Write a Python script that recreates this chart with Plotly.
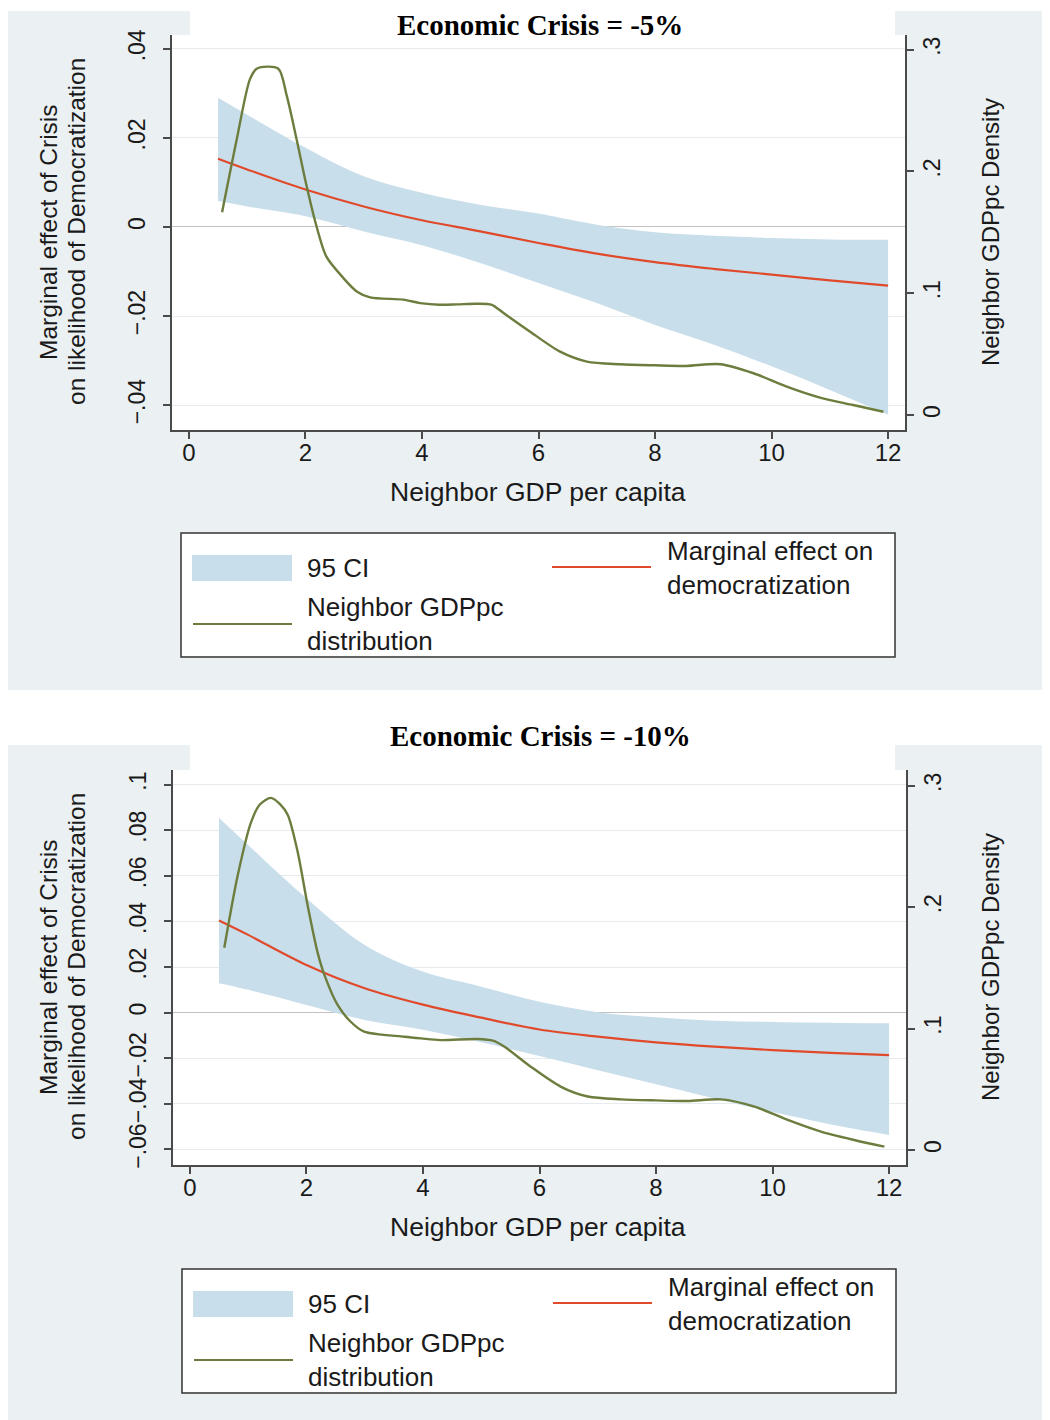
import plotly.graph_objects as go

# page body has an 8px margin: the figure is placed at (8, 8) in the window
OFF = 8
W, H = 1042, 1412

# ---------------- data ----------------
x_me = [0.5, 1, 2, 3, 4, 5, 6, 7, 8, 9, 10, 11, 12]

# Economic Crisis = -5%
me_5 = [0.0153, 0.0129, 0.0084, 0.0046, 0.0015, -0.0010, -0.0036, -0.0060, -0.0079, -0.0094, -0.0107, -0.0120, -0.0132]
ci_hi_5 = [0.0290, 0.0252, 0.0178, 0.0114, 0.0077, 0.0050, 0.0030, 0.0005, -0.0012, -0.0020, -0.0025, -0.0028, -0.0029]
ci_lo_5 = [0.0058, 0.0046, 0.0024, -0.0010, -0.0041, -0.0081, -0.0126, -0.0171, -0.0220, -0.0264, -0.0313, -0.0366, -0.0422]

# Economic Crisis = -10%
me_10 = [0.0404, 0.0341, 0.0209, 0.0107, 0.0035, -0.0022, -0.0074, -0.0105, -0.0130, -0.0149, -0.0164, -0.0176, -0.0186]
ci_hi_10 = [0.0855, 0.0735, 0.0502, 0.0297, 0.0180, 0.0114, 0.0048, 0.0002, -0.0020, -0.0035, -0.0041, -0.0044, -0.0047]
ci_lo_10 = [0.0129, 0.0100, 0.0034, -0.0032, -0.0075, -0.0130, -0.0190, -0.0252, -0.0314, -0.0376, -0.0436, -0.0490, -0.0536]

# Neighbor GDPpc density (right axis)
dens_x_5 = [0.57, 0.82, 1.05, 1.17, 1.53, 1.68, 1.85, 2.02, 2.19, 2.36, 2.65, 2.88, 3.11, 3.68, 3.97,
            4.3, 4.6, 4.94, 5.2, 5.4, 5.85, 6.37, 6.83, 7.4, 8.0, 8.54, 9.12, 9.69, 10.26, 10.83, 11.4, 11.92]
dens_5 = [0.1665, 0.226, 0.276, 0.2845, 0.2845, 0.262, 0.226, 0.188, 0.155, 0.130, 0.1125, 0.1015, 0.0966, 0.0947, 0.0919,
          0.0905, 0.0908, 0.0914, 0.0905, 0.0837, 0.0686, 0.052, 0.0439, 0.0417, 0.0408, 0.0403, 0.0417, 0.0343, 0.0233, 0.0143, 0.0082, 0.0027]

dens_x_10 = [0.59, 0.82, 1.05, 1.2, 1.39, 1.55, 1.68, 1.85, 2.02, 2.19, 2.31, 2.54, 2.76, 2.99, 3.68, 3.97,
             4.3, 4.94, 5.2, 5.4, 5.85, 6.37, 6.83, 7.4, 8.0, 8.54, 9.12, 9.69, 10.26, 10.83, 11.4, 11.92]
dens_10 = [0.1665, 0.226, 0.270, 0.2846, 0.290, 0.2846, 0.276, 0.2455, 0.2016, 0.163, 0.144, 0.119, 0.1056, 0.0974, 0.0933, 0.0919,
           0.0905, 0.0914, 0.0900, 0.0850, 0.0686, 0.052, 0.044, 0.0417, 0.0408, 0.0403, 0.0417, 0.0357, 0.0247, 0.0151, 0.0082, 0.0027]

x_ticks = [0, 2, 4, 6, 8, 10, 12]
y_ticks_5 = [-0.04, -0.02, 0, 0.02, 0.04]
y_ticklabels_5 = ["\u2212.04", "\u2212.02", "0", ".02", ".04"]
y_ticks_10 = [-0.06, -0.04, -0.02, 0, 0.02, 0.04, 0.06, 0.08, 0.1]
y_ticklabels_10 = ["\u2212.06", "\u2212.04", "\u2212.02", "0", ".02", ".04", ".06", ".08", ".1"]
dens_ticks = [0, 0.1, 0.2, 0.3]
dens_ticklabels = ["0", ".1", ".2", ".3"]

titles = ["Economic Crisis = -5%", "Economic Crisis = -10%"]
x_title = "Neighbor GDP per capita"
y_title_lines = ["Marginal effect of Crisis", "on likelihood of Democratization"]
y2_title = "Neighbor GDPpc Density"
legend_labels = ["95 CI", "Marginal effect on<br>democratization", "Neighbor GDPpc<br>distribution"]

# ---------------- styles ----------------
BG = "#ebf0f3"
CI_COL = "#c9deeb"
RED = "#e04a2b"
GREEN = "#6c7d3e"
AX = "#4a4a4a"
TXT = "#1a1a1a"
SANS = "Liberation Sans, Arial, Helvetica, sans-serif"
SERIF = "Liberation Serif, Times New Roman, serif"


def px(v):
    return (v - OFF) / W


def py(v):
    return 1 - (v - OFF) / H


fig = go.Figure()

panels = [
    dict(me=me_5, hi=ci_hi_5, lo=ci_lo_5, dx=dens_x_5, dy=dens_5, xa="x", ya="y", ya2="y2",
         left=172, right=905, top=35, bottom=430, yr=[-0.0456, 0.0431], y2r=[-0.0123, 0.312],
         yt=y_ticks_5, ytl=y_ticklabels_5, off=0, title=titles[0], title_y=25, gray_top=11, gray_bot=690),
    dict(me=me_10, hi=ci_hi_10, lo=ci_lo_10, dx=dens_x_10, dy=dens_10, xa="x2", ya="y3", ya2="y4",
         left=173, right=906, top=770, bottom=1165, yr=[-0.0668, 0.1064], y2r=[-0.0124, 0.313],
         yt=y_ticks_10, ytl=y_ticklabels_10, off=735, title=titles[1], title_y=736, gray_top=745, gray_bot=1430),
]

shapes = []
annotations = []
layout_axes = {}

for i, p in enumerate(panels):
    fig.add_trace(go.Scatter(x=x_me, y=p["lo"], mode="lines", line=dict(width=0, shape="spline"),
                             xaxis=p["xa"], yaxis=p["ya"], showlegend=False, hoverinfo="skip"))
    fig.add_trace(go.Scatter(x=x_me, y=p["hi"], mode="lines", line=dict(width=0, shape="spline"),
                             fill="tonexty", fillcolor=CI_COL,
                             xaxis=p["xa"], yaxis=p["ya"], showlegend=False, hoverinfo="skip"))
    fig.add_trace(go.Scatter(x=x_me, y=p["me"], mode="lines", line=dict(color=RED, width=2.2, shape="spline"),
                             xaxis=p["xa"], yaxis=p["ya"], showlegend=False))
    fig.add_trace(go.Scatter(x=p["dx"], y=p["dy"], mode="lines",
                             line=dict(color=GREEN, width=2.4, shape="spline", smoothing=0.8),
                             xaxis=p["xa"], yaxis=p["ya2"], showlegend=False))

    xname = "xaxis" if p["xa"] == "x" else "xaxis2"
    yname = "yaxis" if p["ya"] == "y" else "yaxis3"
    y2name = "yaxis2" if p["ya2"] == "y2" else "yaxis4"

    layout_axes[xname] = dict(
        domain=[px(p["left"]), px(p["right"])], anchor=p["ya"], range=[-0.29, 12.29],
        tickvals=x_ticks, ticktext=[str(t) for t in x_ticks], ticks="outside", ticklen=7, tickwidth=1.5,
        tickcolor=AX, showline=True, linecolor=AX, linewidth=1.5, showgrid=False, zeroline=False,
        tickfont=dict(family=SANS, size=24, color=TXT), ticklabelstandoff=-7, automargin=False)
    layout_axes[yname] = dict(
        domain=[py(p["bottom"]), py(p["top"])], anchor=p["xa"], range=p["yr"],
        tickvals=p["yt"], ticktext=p["ytl"], tickangle=-90, ticks="outside", ticklen=7, tickwidth=1.5,
        tickcolor=AX, showline=True, linecolor=AX, linewidth=1.5, showgrid=True, gridcolor="#e6ecee",
        gridwidth=1, zeroline=True, zerolinecolor="#c2c2c2", zerolinewidth=1.2,
        tickfont=dict(family=SANS, size=23, color=TXT), ticklabelstandoff=9, automargin=False)
    layout_axes[y2name] = dict(
        overlaying=p["ya"], side="right", anchor=p["xa"], range=p["y2r"],
        tickvals=dens_ticks, ticktext=dens_ticklabels, tickangle=-90, ticks="outside", ticklen=7, tickwidth=1.5,
        tickcolor=AX, showline=True, linecolor=AX, linewidth=1.5, showgrid=False, zeroline=False,
        tickfont=dict(family=SANS, size=23, color=TXT), ticklabelstandoff=-1, automargin=False)

    o = p["off"]
    # backgrounds
    shapes.append(dict(type="rect", xref="paper", yref="paper", x0=px(6), x1=px(1060),
                       y0=py(p["gray_bot"]), y1=py(p["gray_top"]), fillcolor=BG, line=dict(width=0), layer="below"))
    shapes.append(dict(type="rect", xref="paper", yref="paper", x0=px(p["left"]), x1=px(p["right"]),
                       y0=py(p["bottom"]), y1=py(p["top"]), fillcolor="white", line=dict(width=0), layer="below"))
    shapes.append(dict(type="rect", xref="paper", yref="paper", x0=px(190), x1=px(895),
                       y0=py(p["top"] + 1), y1=py(p["gray_top"]), fillcolor="white", line=dict(width=0), layer="below"))
    # legend box
    lx = 181 + (1 if i else 0)
    ly = 533 + o + (1 if i else 0)
    shapes.append(dict(type="rect", xref="paper", yref="paper", x0=px(lx), x1=px(lx + 714),
                       y0=py(ly + 124), y1=py(ly), fillcolor="white", line=dict(color="#333333", width=1.5)))
    shapes.append(dict(type="rect", xref="paper", yref="paper", x0=px(lx + 11), x1=px(lx + 111),
                       y0=py(ly + 48), y1=py(ly + 22), fillcolor=CI_COL, line=dict(width=0)))
    shapes.append(dict(type="line", xref="paper", yref="paper", x0=px(lx + 371), x1=px(lx + 470),
                       y0=py(ly + 34), y1=py(ly + 34), line=dict(color=RED, width=2)))
    shapes.append(dict(type="line", xref="paper", yref="paper", x0=px(lx + 12), x1=px(lx + 111),
                       y0=py(ly + 91), y1=py(ly + 91), line=dict(color=GREEN, width=2)))

    leg_font = dict(family=SANS, size=26, color=TXT)
    annotations.append(dict(text=legend_labels[0], x=px(lx + 124), y=py(ly + 35), xref="paper", yref="paper",
                            xanchor="left", yanchor="middle", showarrow=False, font=leg_font))
    annotations.append(dict(text=legend_labels[1], x=px(lx + 484), y=py(ly + 35), xref="paper", yref="paper",
                            xanchor="left", yanchor="middle", align="left", showarrow=False, font=leg_font))
    annotations.append(dict(text=legend_labels[2], x=px(lx + 124), y=py(ly + 91), xref="paper", yref="paper",
                            xanchor="left", yanchor="middle", align="left", showarrow=False, font=leg_font))

    # titles
    annotations.append(dict(text=p["title"], x=px(540), y=py(p["title_y"]), xref="paper", yref="paper",
                            xanchor="center", yanchor="middle", showarrow=False,
                            font=dict(family=SERIF, size=29, color="black", weight="bold")))
    # axis titles
    cy = 232 + o
    tfont = dict(family=SANS, size=24.5, color=TXT)
    annotations.append(dict(text=y_title_lines[0], x=px(48), y=py(cy), xref="paper", yref="paper",
                            xanchor="center", yanchor="middle", textangle=-90, showarrow=False, font=tfont))
    annotations.append(dict(text=y_title_lines[1], x=px(76), y=py(cy), xref="paper", yref="paper",
                            xanchor="center", yanchor="middle", textangle=-90, showarrow=False, font=tfont))
    annotations.append(dict(text=y2_title, x=px(990), y=py(cy), xref="paper", yref="paper",
                            xanchor="center", yanchor="middle", textangle=-90, showarrow=False,
                            font=dict(family=SANS, size=24, color=TXT)))
    annotations.append(dict(text=x_title, x=px(538), y=py(492 + o), xref="paper", yref="paper",
                            xanchor="center", yanchor="middle", showarrow=False,
                            font=dict(family=SANS, size=26.5, color=TXT)))

fig.update_layout(
    template="none",
    width=W, height=H,
    margin=dict(l=0, r=0, t=0, b=0, autoexpand=False),
    paper_bgcolor="white", plot_bgcolor="white",
    showlegend=False,
    shapes=shapes,
    annotations=annotations,
    **layout_axes,
)

fig.write_html("out.html")
